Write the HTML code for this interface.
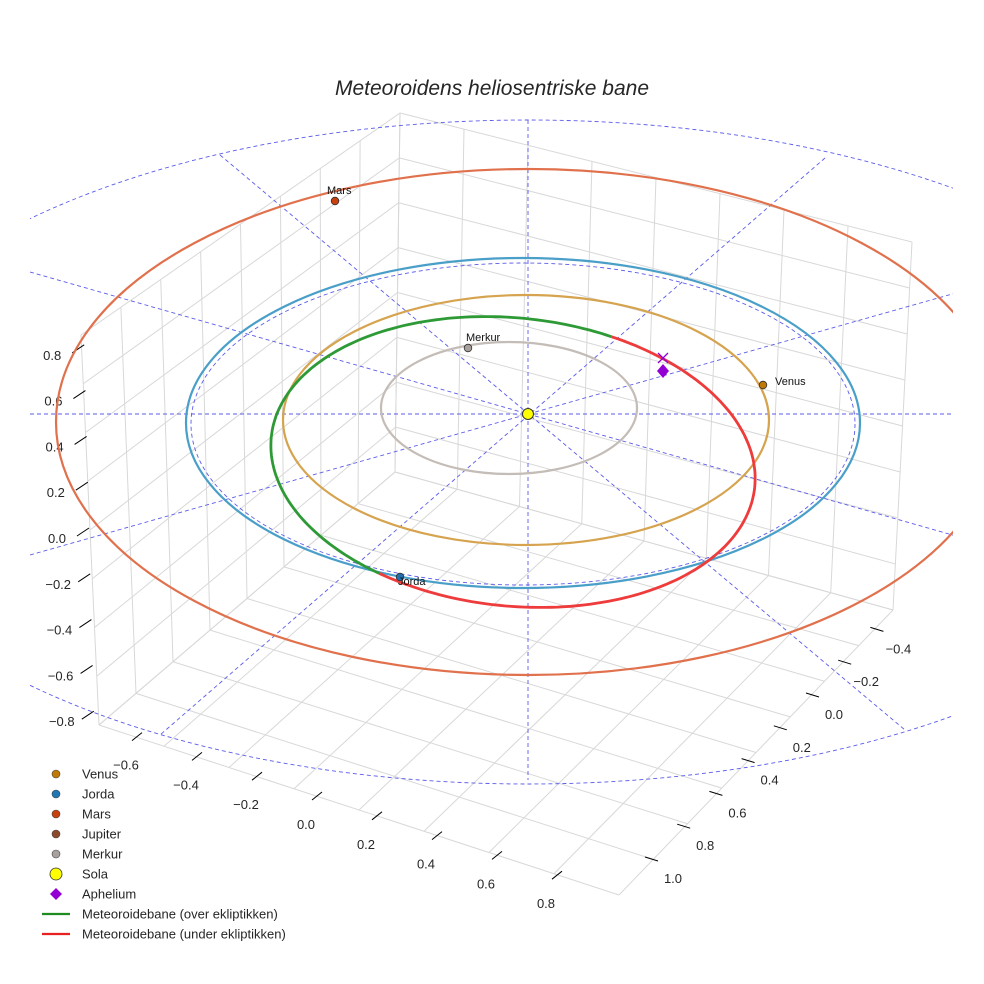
<!DOCTYPE html>
<html><head><meta charset="utf-8"><style>
html,body{margin:0;padding:0;background:#fff;}
svg{display:block;font-family:"Liberation Sans",sans-serif;}
</style></head><body>
<svg id="chart" width="984" height="984" viewBox="0 0 984 984" xmlns="http://www.w3.org/2000/svg">
<defs><clipPath id="plotclip"><rect x="30" y="100" width="923" height="860"/></clipPath></defs>
<text x="492" y="95" text-anchor="middle" font-size="21" font-style="italic" fill="#262626">Meteoroidens heliosentriske bane</text>
<g id="panes"></g>
<g id="ticks"></g>
<g id="plot" clip-path="url(#plotclip)"></g>
<g id="legend"></g>
</svg>
<script>
const NS="http://www.w3.org/2000/svg";
// ---- data ----
const zTicks=[0.8,0.6,0.4,0.2,0.0,-0.2,-0.4,-0.6,-0.8];
const xTicks=[-0.6,-0.4,-0.2,0.0,0.2,0.4,0.6,0.8];
const yTicks=[-0.4,-0.2,0.0,0.2,0.4,0.6,0.8,1.0];
const orbitNames=["Merkur","Venus","Jorda","Mars"];
const orbitCx=[509,526,523,528];
const orbitCy=[408,420,423,422];
const orbitRx=[128,243,337,472];
const orbitRy=[66,125,165,253];
const orbitColors=["#c4bcb6","#d6a34e","#4a9fc9","#e0714c"];
const planetNames=["Mars","Merkur","Venus","Jorda"];
const planetX=[335,468,763,400];
const planetY=[201,348,385,577];
const planetColors=["#c8400e","#a8a09c","#c07808","#1f6fb0"];
const meteorCenter=[513,462];
const meteorRadii=[243,144];
const meteorTilt=6;
const greenArc=[-69.5,-240];
const redArc=[-69.5,120];
const sun=[528,414];
const aphelion=[663,371];
const legendLabels=["Venus","Jorda","Mars","Jupiter","Merkur","Sola","Aphelium","Meteoroidebane (over ekliptikken)","Meteoroidebane (under ekliptikken)"];
const legendColors=["#c07808","#1f77b4","#c8400e","#8c4a2a","#a8a09c","#ffff00","#9400d3","#1e8c1e","#e82020"];

function mk(tag,attrs,parent){const e=document.createElementNS(NS,tag);for(const k in attrs)e.setAttribute(k,attrs[k]);parent.appendChild(e);return e;}
const panes=document.getElementById('panes'),ticks=document.getElementById('ticks'),plot=document.getElementById('plot'),legend=document.getElementById('legend');
// box corners
const L=[99,725],F=[619,895],R=[893,610],B=[395,472],Bt=[400,113],Lt=[81,335],Rt=[912,242];
function lp(a,b,t){return [a[0]+(b[0]-a[0])*t,a[1]+(b[1]-a[1])*t];}
function gl(p,q,c){const l=mk('line',{x1:p[0],y1:p[1],x2:q[0],y2:q[1],stroke:c||'#d8d8d8','stroke-width':1},panes);

}
const N=8;
for(let i=0;i<=N;i++){const t=i/N;
 gl(lp(L,F,t),lp(B,R,t)); gl(lp(F,R,t),lp(L,B,t));
 gl(lp(L,B,t),lp(Lt,Bt,t)); gl(lp(L,Lt,t),lp(B,Bt,t));
 gl(lp(B,R,t),lp(Bt,Rt,t)); gl(lp(B,Bt,t),lp(R,Rt,t));}
// tick labels
zTicks.forEach(v=>{const y=538-v*229,x=57-v*6;
 const t=mk('text',{x:x,y:y+5,'text-anchor':'middle','font-size':13,fill:'#262626'},ticks);t.textContent=v.toFixed(1).replace('-','\u2212');
 
 
 const m=mk('line',{x1:x+20,y1:y-2,x2:x+32,y2:y-10,stroke:'#000','stroke-width':1},ticks);
 
 });
xTicks.forEach(v=>{const x=306+v*300,y=824+v*99;
 const t=mk('text',{x:x,y:y+5,'text-anchor':'middle','font-size':13,fill:'#262626'},ticks);t.textContent=v.toFixed(1).replace('-','\u2212');
 
 
 const m=mk('line',{x1:x+6,y1:y-24,x2:x+16,y2:y-32,stroke:'#000','stroke-width':1},ticks);
 
 });
yTicks.forEach(v=>{const x=834-v*161,y=714+v*164;
 const t=mk('text',{x:x,y:y+5,'text-anchor':'middle','font-size':13,fill:'#262626'},ticks);t.textContent=v.toFixed(1).replace('-','\u2212');
 
 
 const m=mk('line',{x1:x-28,y1:y-21,x2:x-15,y2:y-17,stroke:'#000','stroke-width':1},ticks);
 
 });
// ecliptic reference (dashed)
const dash={stroke:'#5b5bea','stroke-width':0.9,'stroke-dasharray':'4,3',fill:'none'};
const outer=mk('ellipse',Object.assign({cx:528,cy:452,rx:700,ry:332},dash),plot);


const inner=mk('ellipse',Object.assign({cx:523,cy:424,rx:332,ry:161},dash),plot);


const rays=[[30,414,984,414],[528,120,528,780],[220,155,905,730],[825,158,160,735],[30,272,984,544],[30,555,984,285]];
rays.forEach(r=>{const l=mk('line',Object.assign({x1:r[0],y1:r[1],x2:r[2],y2:r[3]},dash),plot);
 
 });
// planet orbits
orbitNames.forEach((n,i)=>{const e=mk('ellipse',{cx:orbitCx[i],cy:orbitCy[i],rx:orbitRx[i],ry:orbitRy[i],fill:'none',stroke:orbitColors[i],'stroke-width':2.2},plot);
 
 });
// meteoroid orbit
function mpt(deg){const t=deg*Math.PI/180,a=meteorTilt*Math.PI/180;
 const x=meteorRadii[0]*Math.cos(t),y=meteorRadii[1]*Math.sin(t);
 return [meteorCenter[0]+x*Math.cos(a)-y*Math.sin(a),meteorCenter[1]+x*Math.sin(a)+y*Math.cos(a)];}
function arc(r,col,name){let d='';const n=120;for(let i=0;i<=n;i++){const p=mpt(r[0]+(r[1]-r[0])*i/n);d+=(i?'L':'M')+p[0].toFixed(1)+','+p[1].toFixed(1);}
 const p=mk('path',{d:d,fill:'none',stroke:col,'stroke-width':2.8},plot);
 
 }
arc(greenArc,'#2e9a36','meteoroid-orbit-above');
arc(redArc,'#ee3b3b','meteoroid-orbit-below');
// planets
planetNames.forEach((n,i)=>{const c=mk('circle',{cx:planetX[i],cy:planetY[i],r:3.8,fill:planetColors[i],stroke:'#333','stroke-width':0.8},plot);
 
 
 const dx=n==='Venus'?12:(n==='Mars'?-8:-2),dy=n==='Venus'?0:(n==='Jorda'?8:-7);
 const t=mk('text',{x:planetX[i]+dx,y:planetY[i]+dy,'font-size':11,fill:'#111'},plot);t.textContent=n;
 
 });
const s=mk('circle',{cx:sun[0],cy:sun[1],r:5.5,fill:'#ffff00',stroke:'#333','stroke-width':1},plot);


const ap=mk('path',{d:`M${aphelion[0]},${aphelion[1]-7}L${aphelion[0]+6},${aphelion[1]}L${aphelion[0]},${aphelion[1]+7}L${aphelion[0]-6},${aphelion[1]}Z`,fill:'#9400d3'},plot);


const ax=mk('path',{d:`M${aphelion[0]-5},${aphelion[1]-18}L${aphelion[0]+5},${aphelion[1]-8}M${aphelion[0]+5},${aphelion[1]-18}L${aphelion[0]-5},${aphelion[1]-8}`,stroke:'#9400d3','stroke-width':1.3},plot);


// legend
legendLabels.forEach((lab,i)=>{const y=774+i*20;let m;
 if(i<5)m=mk('circle',{cx:56,cy:y,r:4,fill:legendColors[i],stroke:'#444','stroke-width':0.6},legend);
 else if(i===5)m=mk('circle',{cx:56,cy:y,r:6,fill:legendColors[i],stroke:'#333','stroke-width':0.8},legend);
 else if(i===6)m=mk('path',{d:`M56,${y-6}L62,${y}L56,${y+6}L50,${y}Z`,fill:legendColors[i]},legend);
 else m=mk('line',{x1:42,y1:y,x2:70,y2:y,stroke:legendColors[i],'stroke-width':2.2},legend);
 
 
 const t=mk('text',{x:82,y:y+4.5,'font-size':13,fill:'#262626'},legend);t.textContent=lab;
 
 });
</script>
</body></html>
